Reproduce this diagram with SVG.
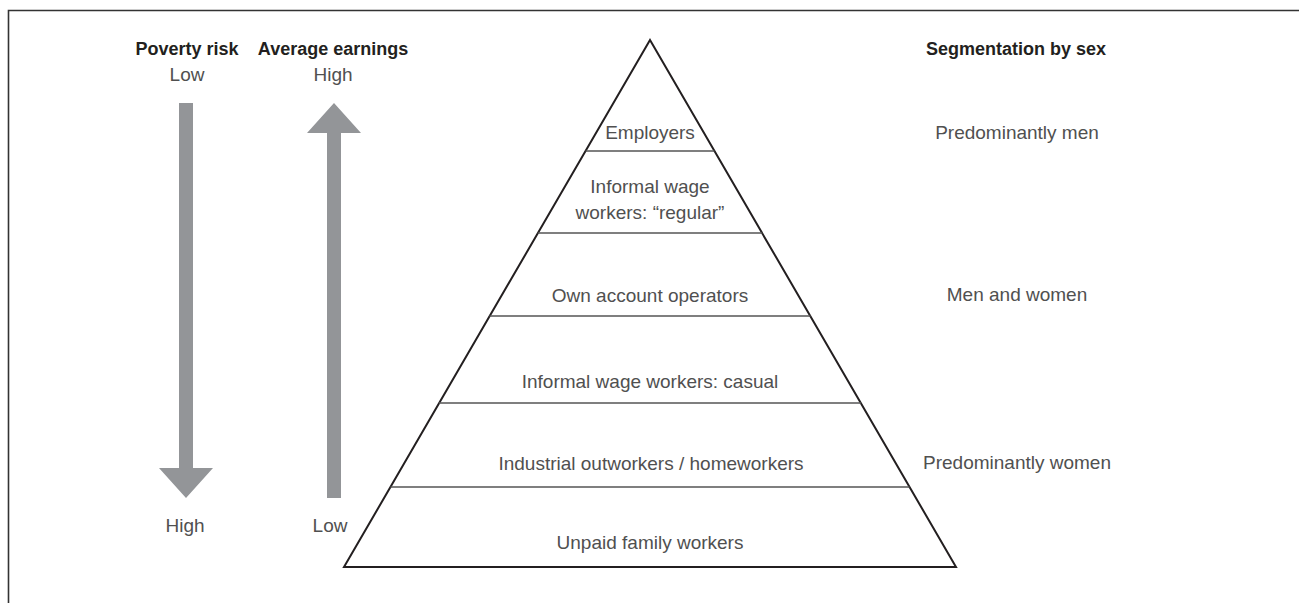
<svg xmlns="http://www.w3.org/2000/svg" width="1299" height="603" viewBox="0 0 1299 603">
<style>
.hd{font-family:"Liberation Sans",Arial,sans-serif;font-weight:bold;font-size:18px;fill:#231f20;text-anchor:middle}
.lb{font-family:"Liberation Sans",Arial,sans-serif;font-size:19px;fill:#505050;text-anchor:middle}
.arrow{fill:#939598}
.outline{fill:none;stroke:#231f20;stroke-width:2;stroke-linejoin:miter}
.div{stroke:#555;stroke-width:1.4}
</style>
<rect x="0" y="0" width="1299" height="603" fill="#ffffff"/>
<g id="frame"><path d="M8.5,603 V10.5 H1299" fill="none" stroke="#333" stroke-width="1.6"/></g>
<g id="headers">
<text class="hd" x="187" y="55">Poverty risk</text>
<text class="hd" x="333" y="55">Average earnings</text>
<text class="hd" x="1016" y="55">Segmentation by sex</text>
</g>
<g id="poverty-arrow">
<polygon class="arrow" points="179,103 193,103 193,468 213,468 186,498 159,468 179,468"/>
<text class="lb" x="187" y="81">Low</text>
<text class="lb" x="185" y="532">High</text>
</g>
<g id="earnings-arrow">
<polygon class="arrow" points="334,103 361,133 341,133 341,498 327,498 327,133 307,133"/>
<text class="lb" x="333" y="81">High</text>
<text class="lb" x="330" y="532">Low</text>
</g>
<g id="pyramid">
<polygon class="outline" points="650,40 956,567 344,567"/>
<g id="connectors">
<line class="div" x1="585.6" y1="151" x2="714.4" y2="151"/>
<line class="div" x1="537.7" y1="233" x2="762.3" y2="233"/>
<line class="div" x1="489.5" y1="316" x2="810.5" y2="316"/>
<line class="div" x1="439" y1="403" x2="861" y2="403"/>
<line class="div" x1="390.5" y1="487" x2="909.5" y2="487"/>
</g>
<g id="employers"><text class="lb" x="650" y="139">Employers</text></g>
<g id="regular"><text class="lb" x="650" y="193">Informal wage</text><text class="lb" x="650" y="219">workers: “regular”</text></g>
<g id="own-account"><text class="lb" x="650" y="302">Own account operators</text></g>
<g id="casual"><text class="lb" x="650" y="388">Informal wage workers: casual</text></g>
<g id="outworkers"><text class="lb" x="651" y="470">Industrial outworkers / homeworkers</text></g>
<g id="unpaid"><text class="lb" x="650" y="549">Unpaid family workers</text></g>
</g>
<g id="segmentation">
<text class="lb" x="1017" y="139">Predominantly men</text>
<text class="lb" x="1017" y="301">Men and women</text>
<text class="lb" x="1017" y="469">Predominantly women</text>
</g>
</svg>
